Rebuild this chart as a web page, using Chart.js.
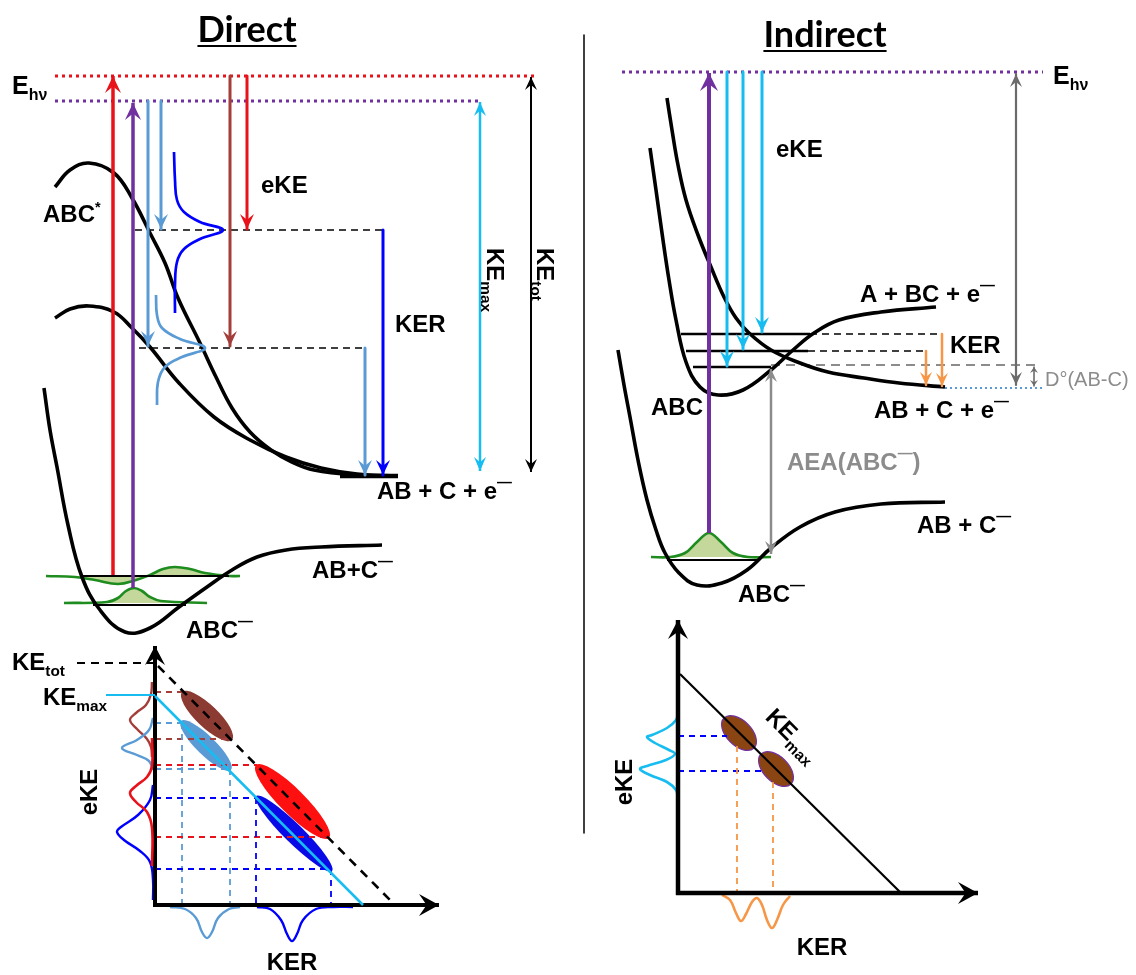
<!DOCTYPE html>
<html>
<head>
<meta charset="utf-8">
<script src="https://cdn.jsdelivr.net/npm/chart.js@4.4.1/dist/chart.umd.min.js"></script>
<style>
  html, body { margin: 0; padding: 0; background: #ffffff; }
  canvas { display: block; }
</style>
</head>
<body>
<canvas id="diagram" width="1136" height="975"></canvas>
<script>
// Diagram units: x runs 0..1136 left to right, y runs 0..975 top to bottom.

// ---------- Direct dissociation: potential energy curves ----------
const directNeutralUpper = [[55,187],[70,170],[89,163],[114,173],[132,198],[150,233],[165,263],[178,298],[200,343],[216,377],[232,408],[250,432],[271,450],[292,462],[314,470],[357,475],[398,476]];
const directNeutralLower = [[55,318],[70,309],[89,306],[114,312],[132,328],[150,347],[179,383],[214,417],[250,440],[286,457],[321,468],[357,474],[398,476]];
const directAnionWell = [[44,388],[50,430],[57,467],[68,525],[82,577],[100,610],[125,632],[150,628],[179,607],[207,587],[232,570],[257,557],[286,550],[321,547],[382,545]];
const directAsymptote = [[340,476],[398,476]];

// photon energies (dotted) and photon arrows
const directPhotonLevelRed = [[55,76],[538,76]];
const directPhotonLevelPurple = [[55,101],[480,101]];
const directPhotonRed = [[113,575],[113,76]];
const directPhotonPurple = [[133,588],[133,103]];

// electron kinetic energies
const directEkeLightBlueLow = [[148,101],[148,346]];
const directEkeLightBlueHigh = [[161,101],[161,229]];
const directEkeBrown = [[230,76],[230,346]];
const directEkeRed = [[247,76],[247,229]];

// dissociation limits reached from each vertical energy
const directLevelHigh = [[135,230],[383,230]];
const directLevelLow = [[139,348],[365,348]];
const directKerBlue = [[383,230],[383,475]];
const directKerLightBlue = [[365,348],[365,475]];
const directKeMax = [[480,471],[480,102]];
const directKeTot = [[531,472],[531,77]];

// eKE distributions beside the photon arrows
const directEkeProfileBlue = [[174,152],[175,180],[177,200],[184,212],[200,222],[223,230],[200,239],[184,249],[177,262],[175,285],[175,313]];
const directEkeProfileLightBlue = [[156,295],[157,315],[162,328],[180,339],[205,348],[182,357],[165,367],[158,382],[157,405]];

// anion vibrational levels and wavefunctions
const directLevelV1 = [[80,576],[229,576]];
const directLevelV0 = [[93,605],[186,605]];
const directWaveV1 = [[46,576],[75,577],[95,580],[118,584],[136,580],[150,575],[163,569],[175,567],[190,569],[205,573],[229,576],[240,576]];
const directWaveV0 = [[64,603],[107,602],[118,598],[126,591],[134,588],[142,591],[150,597],[161,601],[207,603]];

// ---------- Direct: eKE vs KER correlation ----------
const directAxisEke = [[155,907],[155,646]];
const directAxisKer = [[153,905],[439,905]];
const directKeTotGuide = [[77,663],[153,663]];
const directKeMaxGuide = [[106,695],[155,695]];
const directKeTotDiagonal = [[158,666],[395,905]];
const directKeMaxDiagonal = [[155,696],[363,905]];

// islands of intensity: [start, end, width]
const directIslandBrown = [[182,692],[232,740],22];
const directIslandLightBlue = [[181,721],[231,770],19];
const directIslandRed = [[256,765],[329,838],25];
const directIslandBlue = [[256,796],[332,871],19];

const directGuideBrown = [[[155,692],[183,692]],[[155,739],[231,739]]];
const directGuideLightBlue = [[[155,723],[182,723]],[[155,769],[230,769]],[[182,723],[182,905]],[[230,769],[230,905]]];
const directGuideRed = [[[155,765],[257,765]],[[155,837],[328,837]]];
const directGuideBlue = [[[155,798],[257,798]],[[155,869],[331,869]],[[256,798],[256,905]],[[331,869],[331,905]]];

const directProjEkeBrown = [[152,682],[151,694],[146,705],[136,713],[130,720],[137,729],[147,739],[151,747],[152,757]];
const directProjEkeLightBlue = [[153,718],[149,730],[137,740],[122,748],[137,755],[149,761],[153,770]];
const directProjEkeRed = [[152,738],[152,766],[147,777],[136,786],[130,793],[136,802],[147,812],[152,828],[152,866]];
const directProjEkeBlue = [[153,785],[150,800],[138,815],[121,827],[117,832],[124,840],[140,851],[150,862],[153,880],[153,900]];
const directProjKerLightBlue = [[170,907],[185,909],[196,918],[202,932],[207,938],[212,932],[218,918],[229,909],[240,907]];
const directProjKerBlue = [[257,907],[270,909],[281,920],[287,934],[292,941],[297,934],[303,920],[316,909],[333,907],[353,907]];

// ---------- Indirect dissociation ----------
const indirectDivider = [[584,35],[584,833]];
const indirectPhotonLevel = [[622,72],[1043,72]];
const indirectPhoton = [[709,533],[709,73]];
const indirectEke1 = [[727,72],[727,366]];
const indirectEke2 = [[743,72],[743,349]];
const indirectEke3 = [[762,72],[762,332]];
const indirectTotal = [[1016,74],[1016,385]];

const indirectRepulsive = [[667,98],[672,130],[678,165],[686,200],[698,235],[711,267],[724,297],[736,318],[749,333],[771,350],[800,363],[828,372],[864,378],[899,383],[945,387]];
const indirectNeutralWell = [[650,148],[656,190],[662,233],[669,280],[676,320],[686,362],[700,387],[718,395],[743,390],[771,370],[793,350],[814,333],[839,320],[881,312],[936,307]];
const indirectAnionWell = [[618,350],[624,385],[630,417],[638,460],[647,500],[656,530],[665,553],[679,573],[697,585],[722,583],[747,570],[771,548],[800,527],[835,512],[881,504],[945,502]];

const indirectLevels = [[[681,334],[810,334]],[[686,351],[808,351]],[[693,367],[771,367]]];
const indirectLevelExtensions = [[[810,334],[942,334]],[[808,351],[926,351]]];
const indirectThreshold = [[771,365],[1036,365]];
const indirectAsymptote = [[945,388],[1043,388]];
const indirectKer1 = [[942,334],[942,386]];
const indirectKer2 = [[926,351],[926,385]];
const indirectBondEnergy = [[1034,367],[1034,386]];
const indirectAea = [[771,554],[771,369]];
const indirectLevelV0 = [[667,560],[757,560]];
const indirectWaveV0 = [[651,557],[670,557],[685,553],[697,542],[709,533],[721,542],[733,553],[748,557],[771,557]];

// ---------- Indirect: eKE vs KER correlation ----------
const indirectAxisEke = [[678,895],[678,620]];
const indirectAxisKer = [[676,893],[978,893]];
const indirectKeMaxDiagonal = [[680,674],[900,892]];
const indirectIsland1 = [[724,718],[754,748],25];
const indirectIsland2 = [[761,754],[791,784],25];
const indirectGuideEke = [[[678,736],[727,736]],[[678,771],[764,771]]];
const indirectGuideKer = [[[737,746],[737,893]],[[773,782],[773,893]]];
const indirectProjEke = [[678,712],[676,720],[667,728],[652,735],[647,737],[655,743],[669,750],[675,754],[666,760],[647,766],[640,769],[650,775],[667,782],[676,790],[678,798]];
const indirectProjKer = [[722,895],[730,900],[736,913],[741,921],[746,914],[752,902],[757,898],[762,905],[767,920],[772,928],[777,920],[783,905],[790,896]];

// ---------- colours ----------
const C = {
  black: '#000000', red: '#e8121b', purple: '#7030a0', lightBlue: '#5b9bd5', brown: '#a33e3a',
  blue: '#0000ff', cyan: '#17bdf0', green: '#1e8c1e', greenFill: '#c4d89c', orange: '#f79646',
  gray: '#8c8c8c', darkGray: '#6b6b6b', islandBrown: '#8c3b33', islandEllipse: '#8b4513'
};

// ---------- dataset helpers ----------
const toPoints = a => a.map(([x, y]) => ({ x, y }));
function line(data, color, width, extra) {
  return Object.assign({
    data: toPoints(data), showLine: true, borderColor: color, backgroundColor: color,
    borderWidth: width, pointRadius: 0, pointHoverRadius: 0, tension: 0, fill: false,
    borderCapStyle: 'butt', borderJoinStyle: 'round'
  }, extra || {});
}
const smooth = { tension: 0.4 };
const dash = (on, off) => ({ borderDash: [on, off] });
const dotted = { borderDash: [3, 4] };
const head = (len, half, both) => ({ arrow: { end: true, start: !!both, len, half } });

const painted = []; // back to front
const add = ds => painted.push(ds);

// Direct: upper half
add(line(directPhotonLevelRed, C.red, 3, dotted));
add(line(directPhotonLevelPurple, C.purple, 3, dotted));
add(line(directLevelHigh, C.black, 1.6, dash(7, 5)));
add(line(directLevelLow, C.black, 1.6, dash(7, 5)));
add(line(directWaveV1, C.green, 2.6, Object.assign({ fill: { value: 576 }, backgroundColor: C.greenFill }, smooth)));
add(line(directWaveV0, C.green, 2.6, Object.assign({ fill: { value: 603 }, backgroundColor: C.greenFill }, smooth)));
add(line(directLevelV1, C.black, 2));
add(line(directLevelV0, C.black, 2));
add(line(directNeutralUpper, C.black, 3.6, smooth));
add(line(directNeutralLower, C.black, 3.6, smooth));
add(line(directAnionWell, C.black, 3.6, smooth));
add(line(directAsymptote, C.black, 4.5));
add(line(directEkeProfileBlue, C.blue, 2.7, smooth));
add(line(directEkeProfileLightBlue, C.lightBlue, 2.7, smooth));
add(line(directPhotonRed, C.red, 3.5, head(17, 8)));
add(line(directPhotonPurple, C.purple, 3.5, head(17, 8)));
add(line(directEkeLightBlueLow, C.lightBlue, 3, head(15, 7)));
add(line(directEkeLightBlueHigh, C.lightBlue, 3, head(15, 7)));
add(line(directEkeBrown, C.brown, 3, head(15, 7)));
add(line(directEkeRed, C.red, 3, head(15, 7)));
add(line(directKerBlue, C.blue, 3, head(15, 7)));
add(line(directKerLightBlue, C.lightBlue, 3, head(15, 7)));
add(line(directKeMax, C.cyan, 2.5, head(14, 6, true)));
add(line(directKeTot, C.black, 2, head(13, 6, true)));

// Direct: correlation plot
directGuideBrown.forEach(s => add(line(s, C.brown, 1.8, dash(6, 5))));
directGuideLightBlue.forEach(s => add(line(s, C.lightBlue, 1.8, dash(6, 5))));
directGuideRed.forEach(s => add(line(s, C.red, 1.8, dash(6, 5))));
directGuideBlue.forEach(s => add(line(s, C.blue, 1.8, dash(6, 5))));
add(line(directProjEkeBrown, C.brown, 2.4, smooth));
add(line(directProjEkeLightBlue, C.lightBlue, 2.4, smooth));
add(line(directProjEkeBlue, C.blue, 2.4, smooth));
add(line(directProjKerLightBlue, C.lightBlue, 2.4, smooth));
add(line(directProjKerBlue, C.blue, 2.4, smooth));
add(line(directAxisEke, C.black, 4, head(19, 10)));
add(line(directAxisKer, C.black, 4, head(20, 11)));
add(line(directProjEkeRed, C.red, 2.6, smooth));
add(line(directKeTotGuide, C.black, 2, dash(8, 6)));
add(line(directKeMaxGuide, C.cyan, 2));
add(line(directKeMaxDiagonal, C.cyan, 2.5));
add(line(directKeTotDiagonal, C.black, 2.6, dash(9, 7)));

// Indirect: energy diagram
add(line(indirectDivider, C.black, 1.5));
add(line(indirectPhotonLevel, C.purple, 3, dotted));
add(line(indirectThreshold, C.gray, 2.2, dash(9, 6)));
add(line(indirectAsymptote, C.lightBlue, 2.2, { borderDash: [2, 3] }));
indirectLevelExtensions.forEach(s => add(line(s, C.black, 1.6, dash(7, 5))));
indirectLevels.forEach(s => add(line(s, C.black, 2.6)));
add(line(indirectWaveV0, C.green, 2.6, Object.assign({ fill: { value: 557 }, backgroundColor: C.greenFill }, smooth)));
add(line(indirectLevelV0, C.black, 2));
add(line(indirectRepulsive, C.black, 3.6, smooth));
add(line(indirectNeutralWell, C.black, 3.6, smooth));
add(line(indirectAnionWell, C.black, 3.6, smooth));
add(line(indirectPhoton, C.purple, 4, head(18, 9)));
add(line(indirectEke1, C.cyan, 3, head(15, 7)));
add(line(indirectEke2, C.cyan, 3, head(15, 7)));
add(line(indirectEke3, C.cyan, 3, head(15, 7)));
add(line(indirectKer1, C.orange, 2.5, head(13, 6)));
add(line(indirectKer2, C.orange, 2.5, head(13, 6)));
add(line(indirectTotal, C.darkGray, 2.2, head(13, 6, true)));
add(line(indirectBondEnergy, C.darkGray, 1.6, head(6, 4, true)));
add(line(indirectAea, C.gray, 2.5, head(13, 6, true)));

// Indirect: correlation plot
indirectGuideEke.forEach(s => add(line(s, C.blue, 1.8, dash(6, 5))));
indirectGuideKer.forEach(s => add(line(s, C.orange, 1.8, dash(6, 5))));
add(line(indirectKeMaxDiagonal, C.black, 2.2));
add(line(indirectProjEke, C.cyan, 2.6, smooth));
add(line(indirectProjKer, C.orange, 2.6, smooth));
add(line(indirectAxisEke, C.black, 4.5, head(19, 10)));
add(line(indirectAxisKer, C.black, 4.5, head(20, 11)));

// Chart.js paints dataset 0 last, so hand the list over front-first
const datasets = painted.slice().reverse();

// ---------- islands (elliptical intensity spots) ----------
const islands = [
  { span: directIslandBrown, fill: C.islandBrown },
  { span: directIslandLightBlue, fill: C.lightBlue },
  { span: directIslandRed, fill: '#ff1010' },
  { span: directIslandBlue, fill: '#0a0ae6' },
  { span: indirectIsland1, fill: C.islandEllipse, stroke: C.purple },
  { span: indirectIsland2, fill: C.islandEllipse, stroke: C.purple }
];

// ---------- text ----------
const textLabels = [
  { parts: [['Direct']], x: 247, y: 42, size: 36, family: 'Lato', align: 'center', underline: true },
  { parts: [['Indirect']], x: 825, y: 47, size: 36, family: 'Lato', align: 'center', underline: true },
  { parts: [['E'], ['hν', 'sub']], x: 12, y: 94, size: 25 },
  { parts: [['ABC'], ['*', 'sup']], x: 43, y: 222 },
  { parts: [['eKE']], x: 261, y: 193 },
  { parts: [['KER']], x: 395, y: 332 },
  { parts: [['KE'], ['max', 'sub']], x: 487, y: 248, rotate: 90 },
  { parts: [['KE'], ['tot', 'sub']], x: 537, y: 248, rotate: 90 },
  { parts: [['AB + C + e'], ['—', 'bar']], x: 377, y: 499 },
  { parts: [['AB+C'], ['—', 'bar']], x: 312, y: 578 },
  { parts: [['ABC'], ['—', 'bar']], x: 186, y: 638 },
  { parts: [['KE'], ['tot', 'sub']], x: 12, y: 670 },
  { parts: [['KE'], ['max', 'sub']], x: 43, y: 705 },
  { parts: [['eKE']], x: 97, y: 792, rotate: -90, align: 'center' },
  { parts: [['KER']], x: 292, y: 970, align: 'center' },

  { parts: [['E'], ['hν', 'sub']], x: 1053, y: 84, size: 25 },
  { parts: [['eKE']], x: 776, y: 157 },
  { parts: [['A + BC + e'], ['—', 'bar']], x: 860, y: 302 },
  { parts: [['KER']], x: 950, y: 353 },
  { parts: [['D°(AB-C)']], x: 1045, y: 386, size: 20, weight: 'normal', color: C.gray },
  { parts: [['ABC']], x: 651, y: 415 },
  { parts: [['AB + C + e'], ['—', 'bar']], x: 874, y: 418 },
  { parts: [['AEA(ABC'], ['—', 'bar'], [')']], x: 787, y: 470, color: C.gray },
  { parts: [['AB + C'], ['—', 'bar']], x: 917, y: 533 },
  { parts: [['ABC'], ['—', 'bar']], x: 738, y: 602 },
  { parts: [['KE'], ['max', 'sub']], x: 787, y: 741, rotate: 45, align: 'center' },
  { parts: [['eKE']], x: 632, y: 782, rotate: -90, align: 'center' },
  { parts: [['KER']], x: 822, y: 955, align: 'center' }
];

// ---------- plugins ----------
const islandPlugin = {
  id: 'islands',
  beforeDatasetsDraw(chart) {
    const { ctx, scales: { x, y } } = chart;
    islands.forEach(s => {
      const [a, b, w] = s.span;
      const x1 = x.getPixelForValue(a[0]), y1 = y.getPixelForValue(a[1]);
      const x2 = x.getPixelForValue(b[0]), y2 = y.getPixelForValue(b[1]);
      const cx = (x1 + x2) / 2, cy = (y1 + y2) / 2;
      const rx = Math.hypot(x2 - x1, y2 - y1) / 2;
      const ry = Math.abs(x.getPixelForValue(w) - x.getPixelForValue(0)) / 2;
      ctx.save();
      ctx.beginPath();
      ctx.ellipse(cx, cy, rx, ry, Math.atan2(y2 - y1, x2 - x1), 0, Math.PI * 2);
      ctx.fillStyle = s.fill;
      ctx.fill();
      if (s.stroke) { ctx.strokeStyle = s.stroke; ctx.lineWidth = 1.2; ctx.stroke(); }
      ctx.restore();
    });
  }
};

const arrowPlugin = {
  id: 'arrowHeads',
  afterDatasetsDraw(chart) {
    const ctx = chart.ctx;
    chart.data.datasets.forEach((ds, i) => {
      if (!ds.arrow) return;
      const pts = chart.getDatasetMeta(i).data;
      const n = pts.length;
      const drawHead = (tip, from) => {
        const ang = Math.atan2(tip.y - from.y, tip.x - from.x);
        const { len, half } = ds.arrow;
        ctx.save();
        ctx.translate(tip.x, tip.y);
        ctx.rotate(ang);
        ctx.beginPath();
        ctx.moveTo(0, 0);
        ctx.lineTo(-len, -half);
        ctx.lineTo(-len * 0.62, 0);
        ctx.lineTo(-len, half);
        ctx.closePath();
        ctx.fillStyle = ds.borderColor;
        ctx.fill();
        ctx.restore();
      };
      if (ds.arrow.end) drawHead(pts[n - 1], pts[n - 2]);
      if (ds.arrow.start) drawHead(pts[0], pts[1]);
    });
  }
};

const textPlugin = {
  id: 'richText',
  afterDraw(chart) {
    const { ctx, scales: { x, y } } = chart;
    textLabels.forEach(L => {
      const size = L.size || 24;
      const weight = L.weight || 'bold';
      const family = L.family || '"Liberation Sans", Arial, sans-serif';
      const runs = L.parts.map(([t, kind]) => {
        let s = size, dy = 0;
        if (kind === 'sub') { s = size * 0.64; dy = size * 0.24; }
        if (kind === 'sup') { s = size * 0.6; dy = -size * 0.42; }
        if (kind === 'bar') { s = size * 0.62; dy = -size * 0.5; }
        ctx.font = `${weight} ${s}px ${family}`;
        return { t, s, dy, w: ctx.measureText(t).width };
      });
      const total = runs.reduce((acc, r) => acc + r.w, 0);
      ctx.save();
      ctx.translate(x.getPixelForValue(L.x), y.getPixelForValue(L.y));
      if (L.rotate) ctx.rotate(L.rotate * Math.PI / 180);
      let cx = L.align === 'center' ? -total / 2 : 0;
      const start = cx;
      ctx.fillStyle = L.color || '#000';
      ctx.textBaseline = 'alphabetic';
      ctx.textAlign = 'left';
      runs.forEach(r => {
        ctx.font = `${weight} ${r.s}px ${family}`;
        ctx.fillText(r.t, cx, r.dy);
        cx += r.w;
      });
      if (L.underline) {
        ctx.strokeStyle = L.color || '#000';
        ctx.lineWidth = 2.2;
        ctx.beginPath();
        ctx.moveTo(start, 4);
        ctx.lineTo(start + total, 4);
        ctx.stroke();
      }
      ctx.restore();
    });
  }
};

new Chart(document.getElementById('diagram'), {
  type: 'scatter',
  data: { datasets },
  options: {
    responsive: false,
    devicePixelRatio: 1,
    animation: false,
    events: [],
    layout: { padding: 0 },
    plugins: { legend: { display: false }, tooltip: { enabled: false } },
    scales: {
      x: { type: 'linear', min: 0, max: 1136, display: false },
      y: { type: 'linear', min: 0, max: 975, reverse: true, display: false }
    }
  },
  plugins: [islandPlugin, arrowPlugin, textPlugin]
});
</script>
</body>
</html>
